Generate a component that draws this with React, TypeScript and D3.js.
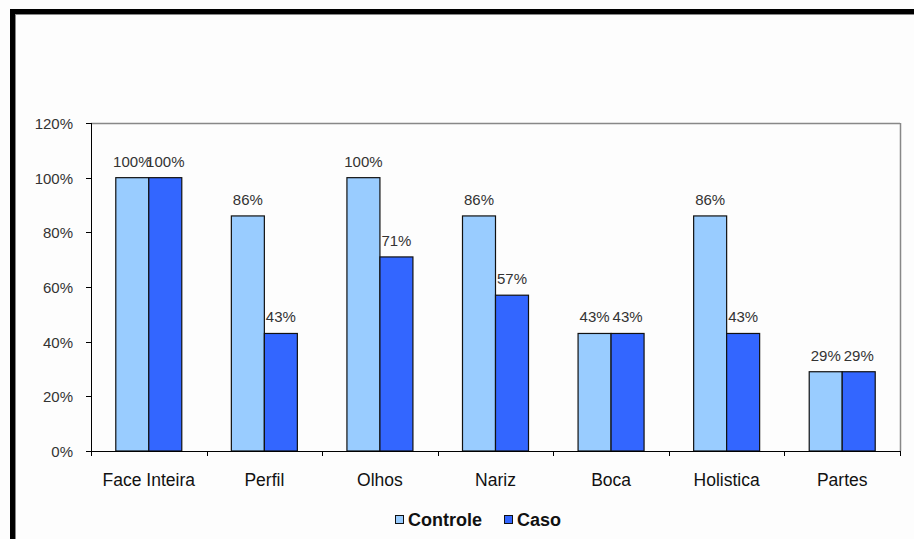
import * as React from "react";
import * as d3 from "d3";

const categories = ["Face Inteira", "Perfil", "Olhos", "Nariz", "Boca", "Holistica", "Partes"];
const seriesNames = ["Controle", "Caso"];
const controle = [100, 86, 100, 86, 43, 86, 29];
const caso = [100, 43, 71, 57, 43, 43, 29];
const yTicks = [0, 20, 40, 60, 80, 100, 120];

const COLORS = ["#99ccff", "#3366ff"];
const FONT = "'Liberation Sans', Arial, sans-serif";

export default function App() {
  const width = 914;
  const height = 539;
  const plot = { left: 91, right: 900, top: 123, bottom: 451 };

  const x = d3.scaleBand<string>().domain(categories).range([plot.left, plot.right]);
  const y = d3.scaleLinear().domain([0, 120]).range([plot.bottom, plot.top]);
  const barW = 33;

  const series = [controle, caso];

  return (
    <div style={{ position: "fixed", left: 0, top: 0 }}>
      <svg width={width} height={height} style={{ display: "block", background: "#fdfdfd" }} fontFamily={FONT}>
        {/* frame */}
        <rect x={10} y={9} width={width} height={5} fill="#000" />
        <rect x={10} y={9} width={5} height={height} fill="#000" />
        <line x1={15} y1={14.5} x2={width} y2={14.5} stroke="#888" />
        <line x1={15.5} y1={14} x2={15.5} y2={height} stroke="#888" />

        {/* plot area border */}
        <line x1={plot.left} y1={plot.top + 0.5} x2={plot.right} y2={plot.top + 0.5} stroke="#888" strokeWidth={1.5} />
        <line x1={plot.right + 0.5} y1={plot.top} x2={plot.right + 0.5} y2={plot.bottom} stroke="#888" strokeWidth={1.5} />

        {/* bars */}
        {series.map((vals, si) =>
          vals.map((v, i) => {
            const cx = (x(categories[i]) ?? 0) + x.bandwidth() / 2;
            const bx = cx + (si === 0 ? -barW : 0);
            return (
              <rect
                key={`${si}-${i}`}
                x={bx}
                y={y(v)}
                width={barW}
                height={plot.bottom - y(v)}
                fill={COLORS[si]}
                stroke="#111"
                strokeWidth={1.2}
              />
            );
          })
        )}

        {/* value labels */}
        {series.map((vals, si) =>
          vals.map((v, i) => {
            const cx = (x(categories[i]) ?? 0) + x.bandwidth() / 2 + (si === 0 ? -barW / 2 : barW / 2);
            return (
              <text key={`l${si}-${i}`} x={cx} y={y(v) - 11} textAnchor="middle" fontSize={15} fill="#333">
                {v}%
              </text>
            );
          })
        )}

        {/* y axis */}
        <line x1={plot.left + 0.5} y1={plot.top} x2={plot.left + 0.5} y2={plot.bottom + 5} stroke="#000" />
        {yTicks.map((t) => (
          <g key={t} transform={`translate(0,${Math.round(y(t)) + 0.5})`}>
            <line x1={plot.left - 5} x2={plot.left} stroke="#000" />
            <text x={73} y={0} dy="0.35em" textAnchor="end" fontSize={15} fill="#333">
              {t}%
            </text>
          </g>
        ))}

        {/* x axis */}
        <line x1={plot.left} y1={plot.bottom + 0.5} x2={plot.right + 1} y2={plot.bottom + 0.5} stroke="#000" />
        {categories.map((c) => (
          <g key={c}>
            <line
              x1={Math.round((x(c) ?? 0) + x.bandwidth()) + 0.5}
              x2={Math.round((x(c) ?? 0) + x.bandwidth()) + 0.5}
              y1={plot.bottom}
              y2={plot.bottom + 5}
              stroke="#000"
            />
            <text x={(x(c) ?? 0) + x.bandwidth() / 2} y={486} textAnchor="middle" fontSize={17.5} fill="#111">
              {c}
            </text>
          </g>
        ))}

        {/* legend */}
        {seriesNames.map((name, i) => {
          const lx = [395, 504][i];
          return (
            <g key={name}>
              <rect x={lx + 0.5} y={515.5} width={8} height={8} fill={COLORS[i]} stroke="#111" />
              <text x={lx + 13} y={526} fontSize={18} fontWeight="bold" fill="#111">
                {name}
              </text>
            </g>
          );
        })}
      </svg>
    </div>
  );
}
